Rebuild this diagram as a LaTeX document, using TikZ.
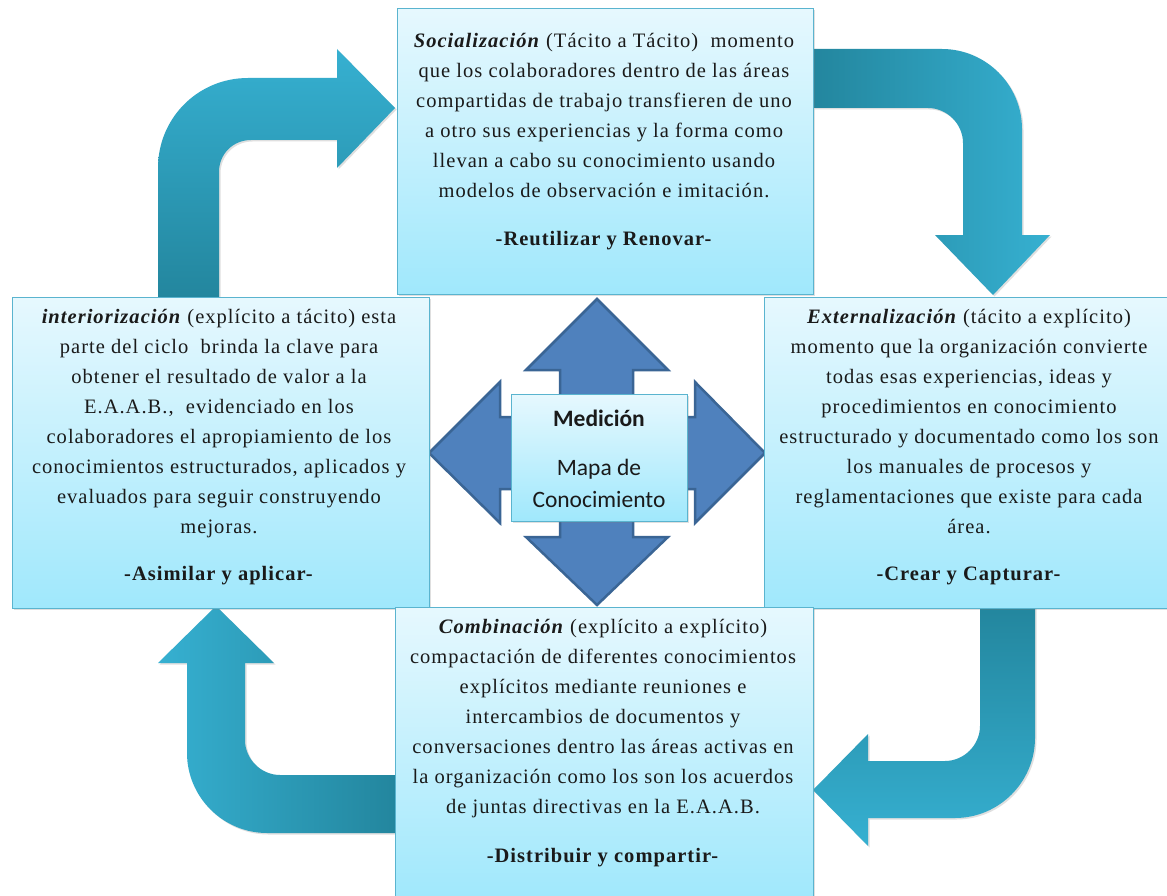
\documentclass[tikz,border=0pt]{standalone}
\usepackage{fontspec}
\setmainfont{Liberation Serif}
\newfontfamily\boxfont[LetterSpace=5]{Liberation Serif}
\newfontfamily\carlito{Carlito}
\usetikzlibrary{shadows}
\definecolor{arrlight}{HTML}{36B0D1}
\definecolor{arrdark}{HTML}{23869E}
\definecolor{boxtop}{HTML}{E6F8FE}
\definecolor{boxbot}{HTML}{A0E8FC}
\definecolor{boxline}{HTML}{5AB4CF}
\definecolor{crossfill}{HTML}{4F81BD}
\definecolor{crossline}{HTML}{3A6595}
\definecolor{txt}{HTML}{1A1A1A}
\begin{document}
\begin{tikzpicture}[x=1pt,y=-1pt,
  cyclearrow/.style={draw=none, drop shadow={opacity=0.25, shadow xshift=1.5pt, shadow yshift=-1.5pt}},
  infobox/.style={draw=boxline, line width=1pt, top color=boxtop, bottom color=boxbot,
    rectangle, inner sep=0pt, drop shadow={opacity=0.25, shadow xshift=1.5pt, shadow yshift=-1.5pt}},
  boxtext/.style={align=center, inner sep=0pt, anchor=north, text=txt, font=\boxfont\fontsize{20.5}{30}\selectfont},
  centertext/.style={inner sep=0pt, text=txt, font=\carlito\fontsize{23.5}{28}\selectfont},
]
\useasboundingbox (0,0) rectangle (1167,896);
\fill[white] (0,0) rectangle (1167,896);

% cycle arrows
\path[cyclearrow, bottom color=arrdark, top color=arrlight]
  (158,297) -- (158,168) .. controls (158,118) and (198,78) .. (248,78) -- (337,78) -- (337,49)
  -- (395,108) -- (337,168) -- (337,140) -- (251,140) .. controls (233,140) and (219,154) .. (219,172)
  -- (219,297) -- cycle;
\path[cyclearrow, left color=arrdark, right color=arrlight]
  (813,49) -- (942,49) .. controls (986,49) and (1022,85) .. (1022,129) -- (1022,235) -- (1050,235)
  -- (993,295) -- (935,235) -- (963,235) -- (963,143) .. controls (963,124) and (947,108) .. (928,108)
  -- (813,108) -- cycle;
\path[cyclearrow, top color=arrdark, bottom color=arrlight]
  (1035,607) -- (1035,738) .. controls (1035,782) and (999,818) .. (955,818) -- (868,818) -- (868,846)
  -- (813,790) -- (868,734) -- (868,761) -- (945,761) .. controls (964,761) and (980,745) .. (980,726)
  -- (980,607) -- cycle;
\path[cyclearrow, right color=arrdark, left color=arrlight]
  (395,833) -- (267,833) .. controls (223,833) and (187,797) .. (187,753) -- (187,663) -- (158,663)
  -- (216,606) -- (274,663) -- (245,663) -- (245,740) .. controls (245,759) and (261,775) .. (280,775)
  -- (395,775) -- cycle;

% central four-way arrow
\filldraw[fill=crossfill, draw=crossline, line width=2.5pt, line join=miter]
  (597,299) -- (668,370) -- (633,370) -- (633,417) -- (695,417) -- (695,382) -- (765,453)
  -- (695,523) -- (695,489) -- (633,489) -- (633,537) -- (668,537) -- (597,605) -- (526,537)
  -- (560,537) -- (560,489) -- (500,489) -- (500,523) -- (429,453) -- (500,382) -- (500,417)
  -- (560,417) -- (560,370) -- (526,370) -- cycle;

% boxes
\node[infobox, minimum width=416pt, minimum height=285pt] (top) at (605,151.5) {};
\node[infobox, minimum width=417pt, minimum height=311pt] (left) at (220.5,452.5) {};
\node[infobox, minimum width=408pt, minimum height=311pt] (right) at (968,452.5) {};
\node[infobox, minimum width=418pt, minimum height=293pt] (bottom) at (604,753.5) {};
\node[infobox, minimum width=176pt, minimum height=127pt] (center) at (599,457.5) {};

% texts
\node[boxtext] (toptext) at (604,26) {\strut\textbf{\textit{Socialización}} (Tácito a Tácito)\ \ momento\\
que los colaboradores dentro de las áreas\\
compartidas de trabajo transfieren de uno\\
a otro sus experiencias y la forma como\\
llevan a cabo su conocimiento usando\\
modelos de observación e imitación.\\[18pt]
\textbf{-Reutilizar y Renovar-}};

\node[boxtext] (lefttext) at (219,302) {\strut\textbf{\textit{interiorización}} (explícito a tácito) esta\\
parte del ciclo\ \ brinda la clave para\\
obtener el resultado de valor a la\\
E.A.A.B.,\ \ evidenciado en los\\
colaboradores el apropiamiento de los\\
conocimientos estructurados, aplicados y\\
evaluados para seguir construyendo\\
mejoras.\\[17pt]
\textbf{-Asimilar y aplicar-}};

\node[boxtext] (righttext) at (969,302) {\strut\textbf{\textit{Externalización}} (tácito a explícito)\\
momento que la organización convierte\\
todas esas experiencias, ideas y\\
procedimientos en conocimiento\\
estructurado y documentado como los son\\
los manuales de procesos y\\
reglamentaciones que existe para cada\\
área.\\[17pt]
\textbf{-Crear y Capturar-}};

\node[boxtext] (bottomtext) at (603,612) {\strut\textbf{\textit{Combinación}} (explícito a explícito)\\
compactación de diferentes conocimientos\\
explícitos mediante reuniones e\\
intercambios de documentos y\\
conversaciones dentro las áreas activas en\\
la organización como los son los acuerdos\\
de juntas directivas en la E.A.A.B.\\[19pt]
\textbf{-Distribuir y compartir-}};

\node[centertext, font=\carlito\bfseries\fontsize{23.5}{28}\selectfont] (medicion) at (599,418) {Medición};
\node[centertext] (mapa) at (599,469) {Mapa de};
\node[centertext] (conoc) at (599,499) {Conocimiento};
\end{tikzpicture}
\end{document}
